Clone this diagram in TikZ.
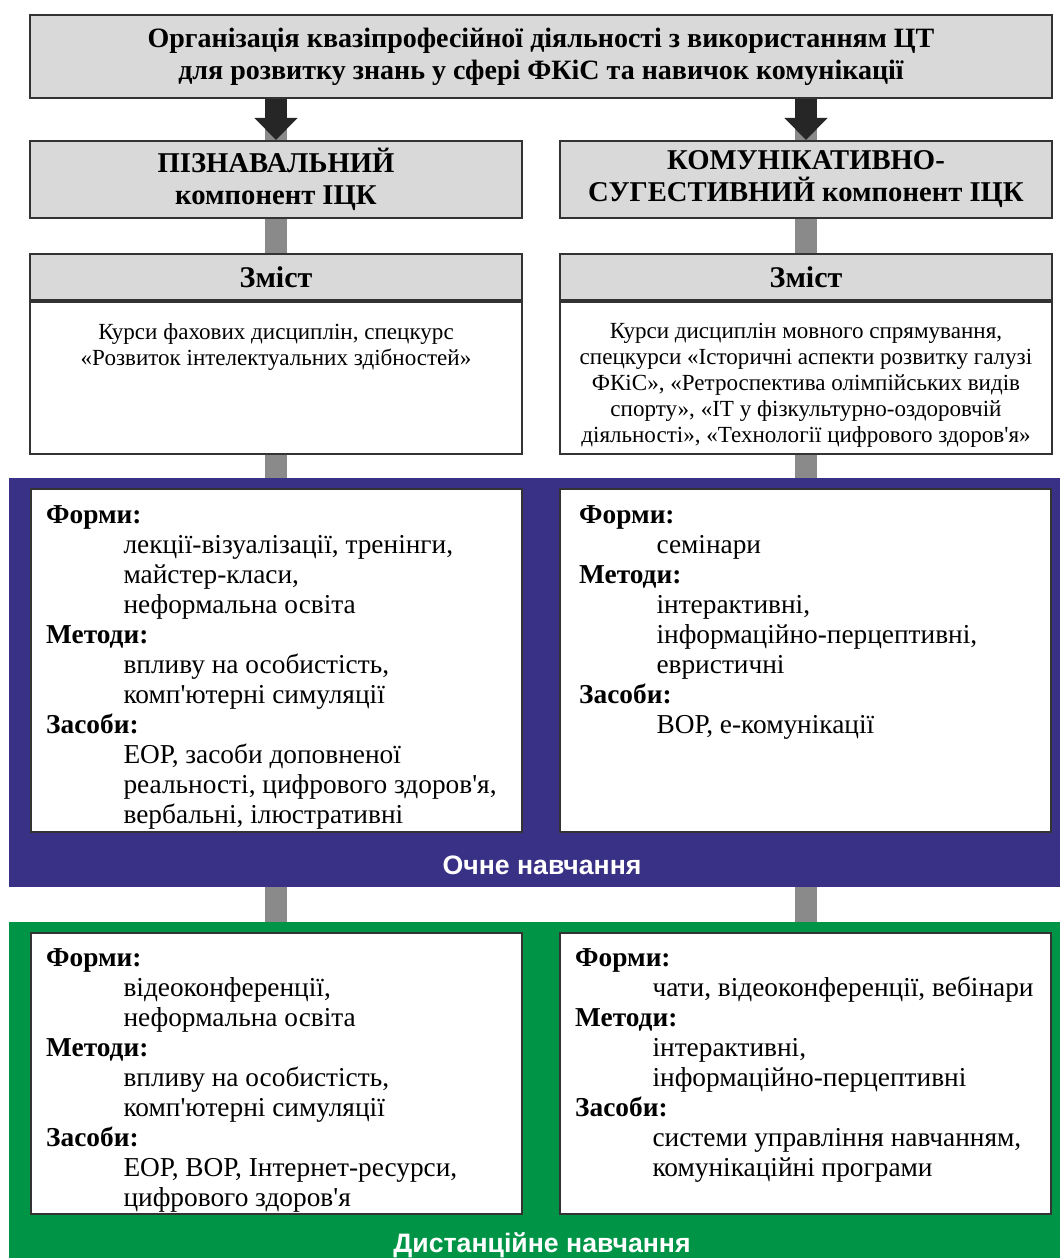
\documentclass[tikz,border=0pt]{standalone}
\usepackage{fontspec}
\setmainfont{Liberation Serif}[Ligatures=TeXOff]
\setsansfont{Liberation Sans}
\usetikzlibrary{positioning,arrows.meta}
\definecolor{boxgray}{RGB}{217,217,217}
\definecolor{linkgray}{RGB}{138,138,138}
\definecolor{ochblue}{RGB}{57,49,133}
\definecolor{distgreen}{RGB}{0,149,70}
\newcommand{\itm}[1]{\hspace*{58pt}#1}

\begin{document}
\begin{tikzpicture}[x=0.75pt,y=-0.75pt,
	hbox/.style={draw=black!80, line width=1.6pt, fill=boxgray, inner sep=0pt},
	wbox/.style={draw=black!80, line width=1.6pt, fill=white, inner sep=0pt},
	band/.style={inner sep=0pt, minimum width=788.25pt},
	link/.style={draw=linkgray, line width=16.5pt},
	bigarrow/.style={draw=black!85, line width=16.5pt, -{Triangle[width=31.5pt,length=16.5pt]}},
	heading/.style={font=\fontsize{21.5}{24}\selectfont\bfseries, align=center},
	coursetext/.style={font=\fontsize{17.3}{19.5}\selectfont, align=center, inner sep=0pt, anchor=north},
	listtext/.style={font=\fontsize{20.5}{22.5}\selectfont, align=left, inner sep=0pt, anchor=north west},
	bandlabel/.style={font=\sffamily\bfseries\fontsize{20}{22}\selectfont, text=white}]
	\useasboundingbox (0,0) rectangle (1060,1258);
	\node[hbox, heading, font=\fontsize{21}{24}\selectfont\bfseries, minimum width=766.5pt, minimum height=62.25pt] (title) at (541,56.5)
		{Організація квазіпрофесійної діяльності з використанням ЦТ\\для розвитку знань у сфері ФКіС та навичок комунікації};
	\node[hbox, heading, minimum width=369pt, minimum height=57.75pt] (cogn) at (276,179.5) {ПІЗНАВАЛЬНИЙ\\компонент ІЦК};
	\node[hbox, heading, minimum width=369pt, minimum height=57.75pt] (comm) at (806,179.5) {КОМУНІКАТИВНО-\\СУГЕСТИВНИЙ компонент ІЦК};
	\draw[link] (cogn.north) -- ++(0,-24);
	\draw[link] (comm.north) -- ++(0,-24);
	\draw[bigarrow] (title.south -| cogn.north) -- (cogn.north);
	\draw[bigarrow] (title.south -| comm.north) -- (comm.north);

	\node[hbox, heading, font=\fontsize{22.5}{24}\selectfont\bfseries, minimum width=369pt, minimum height=34.5pt] (contL) at (276,277) {Зміст};
	\node[hbox, heading, font=\fontsize{22.5}{24}\selectfont\bfseries, minimum width=369pt, minimum height=34.5pt] (contR) at (806,277) {Зміст};
	\node[wbox, minimum width=369pt, minimum height=114pt, below=0pt of contL] (courseL) {};
	\node[wbox, minimum width=369pt, minimum height=114pt, below=0pt of contR] (courseR) {};
	\node[coursetext] (courseLtxt) at ([yshift=-16.5pt]courseL.north)
		{Курси фахових дисциплін, спецкурс\\«Розвиток інтелектуальних здібностей»};
	\node[coursetext] (courseRtxt) at ([yshift=-16.5pt]courseR.north)
		{Курси дисциплін мовного спрямування,\\спецкурси «Історичні аспекти розвитку галузі\\ФКіС», «Ретроспектива олімпійських видів\\спорту», «ІТ у фізкультурно-оздоровчій\\діяльності», «Технології цифрового здоров'я»};
	\draw[link] (cogn.south) -- (contL.north);
	\draw[link] (comm.south) -- (contR.north);

	\node[band, fill=ochblue, minimum height=306.75pt] (ochne) at (534.5,682.5) {};
	\node[band, fill=distgreen, minimum height=252pt] (dist) at (534.5,1090) {};
	\draw[link] (courseL.south) -- (courseL.south |- ochne.north);
	\draw[link] (courseR.south) -- (courseR.south |- ochne.north);
	\draw[link] (courseL.south |- ochne.south) -- (courseL.south |- dist.north);
	\draw[link] (courseR.south |- ochne.south) -- (courseR.south |- dist.north);

	\node[wbox, minimum width=368.25pt, minimum height=257.25pt] (fL) at (276.5,660.5) {};
	\node[wbox, minimum width=368.25pt, minimum height=257.25pt] (fR) at (805.5,660.5) {};
	\node[listtext] (fLtxt) at ([xshift=12pt, yshift=-13pt]fL.north west)
		{\textbf{Форми:}\\
		\itm{лекції-візуалізації, тренінги,}\\
		\itm{майстер-класи,}\\
		\itm{неформальна освіта}\\
		\textbf{Методи:}\\
		\itm{впливу на особистість,}\\
		\itm{комп'ютерні симуляції}\\
		\textbf{Засоби:}\\
		\itm{ЕОР, засоби доповненої}\\
		\itm{реальності, цифрового здоров'я,}\\
		\itm{вербальні, ілюстративні}};
	\node[listtext] (fRtxt) at ([xshift=15pt, yshift=-13pt]fR.north west)
		{\textbf{Форми:}\\
		\itm{семінари}\\
		\textbf{Методи:}\\
		\itm{інтерактивні,}\\
		\itm{інформаційно-перцептивні,}\\
		\itm{евристичні}\\
		\textbf{Засоби:}\\
		\itm{ВОР, е-комунікації}};
	\node[bandlabel] (ochnelbl) at (542,865) {Очне навчання};

	\node[wbox, minimum width=368.25pt, minimum height=210.75pt] (dL) at (276.5,1073.5) {};
	\node[wbox, minimum width=368.25pt, minimum height=210.75pt] (dR) at (805.5,1073.5) {};
	\node[listtext] (dLtxt) at ([xshift=12pt, yshift=-12.5pt]dL.north west)
		{\textbf{Форми:}\\
		\itm{відеоконференції,}\\
		\itm{неформальна освіта}\\
		\textbf{Методи:}\\
		\itm{впливу на особистість,}\\
		\itm{комп'ютерні симуляції}\\
		\textbf{Засоби:}\\
		\itm{ЕОР, ВОР, Інтернет-ресурси,}\\
		\itm{цифрового здоров'я}};
	\node[listtext] (dRtxt) at ([xshift=12pt, yshift=-12.5pt]dR.north west)
		{\textbf{Форми:}\\
		\itm{чати, відеоконференції, вебінари}\\
		\textbf{Методи:}\\
		\itm{інтерактивні,}\\
		\itm{інформаційно-перцептивні}\\
		\textbf{Засоби:}\\
		\itm{системи управління навчанням,}\\
		\itm{комунікаційні програми}};
	\node[bandlabel] (distlbl) at (542,1245) {Дистанційне навчання};
\end{tikzpicture}
\end{document}
